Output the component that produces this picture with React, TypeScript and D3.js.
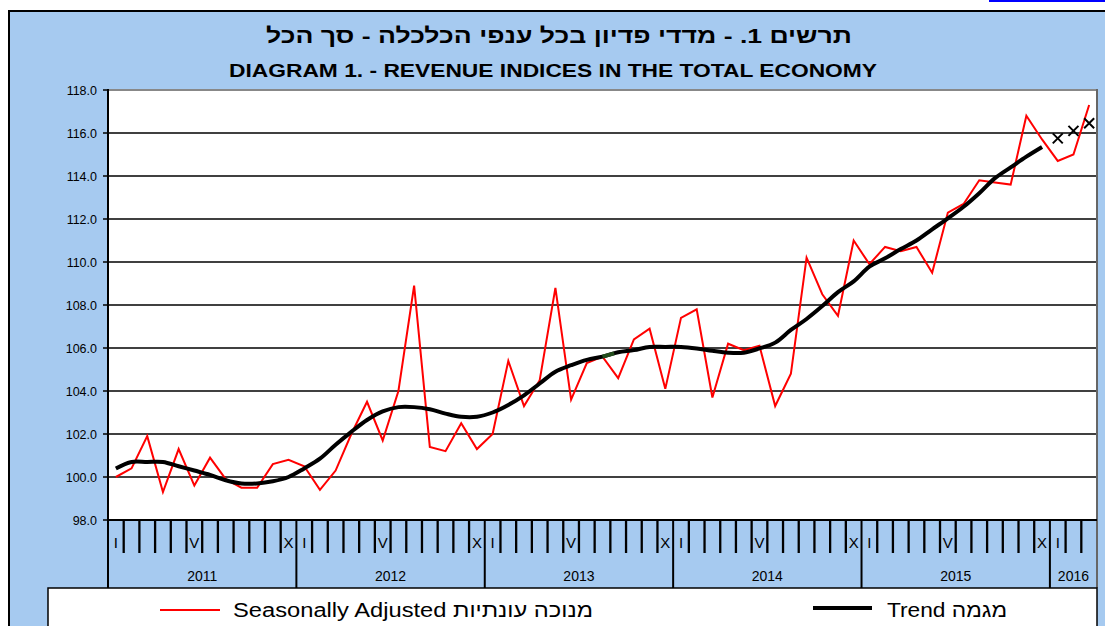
import * as d3 from "d3";

const years = [2011, 2012, 2013, 2014, 2015, 2016];
const monthsInYear = [12, 12, 12, 12, 12, 3];
const romanLabels = [
  { slot: 0, text: "I" },
  { slot: 5, text: "V" },
  { slot: 11, text: "X" }
];

// seasonally adjusted index, Jan 2011 .. Mar 2016
const seasonal = [
  100.0, 100.4, 101.9, 99.3, 101.3, 99.6, 100.9, 99.9, 99.5, 99.5, 100.6, 100.8,
  100.5, 99.4, 100.3, 102.0, 103.5, 101.7, 104.0, 108.9, 101.4, 101.2, 102.5, 101.3,
  102.0, 105.4, 103.3, 104.5, 108.8, 103.6, 105.3, 105.6, 104.6, 106.4, 106.9, 104.1,
  107.4, 107.8, 103.7, 106.2, 105.9, 106.1, 103.3, 104.8, 110.2, 108.5, 107.5, 111.0,
  109.9, 110.7, 110.5, 110.7, 109.5, 112.3, 112.7, 113.8, 113.7, 113.6, 116.8, 115.7,
  114.7, 115.0, 117.3
];

// trend, Jan 2011 .. Dec 2015
const trend = [
  100.4, 100.7, 100.7, 100.7, 100.5, 100.3, 100.1, 99.85, 99.7, 99.7, 99.8, 100.0,
  100.4, 100.85, 101.5, 102.1, 102.65, 103.05, 103.25, 103.25, 103.15, 102.95, 102.8, 102.8,
  103.0, 103.35, 103.8, 104.35, 104.9, 105.2, 105.45, 105.6, 105.8, 105.9, 106.05, 106.05,
  106.05, 105.98, 105.87, 105.78, 105.78, 105.98, 106.25, 106.84, 107.35, 107.95, 108.6, 109.1,
  109.78, 110.17, 110.6, 111.0, 111.52, 112.03, 112.57, 113.2, 113.9, 114.4, 114.9, 115.35
];

// provisional trend, Jan .. Mar 2016
const trendEstimate = [115.75, 116.1, 116.45];

const blue = "#a6caf0";
const font = "Arial, 'Liberation Sans', 'DejaVu Sans', sans-serif";

export default function App() {
  const width = 1105;
  const height = 626;
  const plot = { left: 108, right: 1097, top: 90, bottom: 520 };
  const monthTickBottom = 553;
  const bandBottom = 588;

  const months = years.flatMap((yr, i) => d3.range(monthsInYear[i]).map((m) => `${yr}-${m + 1}`));
  const x = d3.scaleBand<string>().domain(months).range([plot.left, plot.right]);
  const cx = (i: number) => (x(months[i]) ?? 0) + x.bandwidth() / 2;
  const y = d3.scaleLinear([98, 118], [plot.bottom, plot.top]);
  const yTicks = y.ticks(10);

  const redLine = d3
    .line<number>()
    .x((_, i) => cx(i))
    .y((v) => y(v));
  const trendLine = d3
    .line<number>()
    .x((_, i) => cx(i))
    .y((v) => y(v))
    .curve(d3.curveCatmullRom.alpha(0.5));

  let yearStart = 0;
  const yearBands = years.map((yr, i) => {
    const start = yearStart;
    yearStart += monthsInYear[i];
    return { year: yr, start, count: monthsInYear[i] };
  });

  return (
    <svg
      width={width}
      height={height}
      viewBox={`0 0 ${width} ${height}`}
      style={{ position: "absolute", left: 0, top: 0, fontFamily: font }}
    >
      <rect x="0" y="0" width={width} height={height} fill="#fff" />
      <rect x="989" y="0" width="116" height="2" fill="#0000ff" />
      <rect x="9" y="11" width={width} height={height} fill={blue} stroke="#000" strokeWidth="2" />

      <text
        x="559"
        y="43"
        textAnchor="middle"
        direction="rtl"
        fontSize="21"
        fontWeight="bold"
        textLength="586"
        lengthAdjust="spacingAndGlyphs"
      >
        תרשים 1. - מדדי פדיון בכל ענפי הכלכלה - סך הכל
      </text>
      <text
        x="553"
        y="77"
        textAnchor="middle"
        fontSize="18"
        fontWeight="bold"
        textLength="648"
        lengthAdjust="spacingAndGlyphs"
      >
        DIAGRAM 1. - REVENUE INDICES IN THE TOTAL ECONOMY
      </text>

      <rect x={plot.left} y={plot.top} width={plot.right - plot.left} height={plot.bottom - plot.top} fill="#fff" />
      {yTicks.map((tick) => (
        <g key={tick}>
          {tick > 98 && tick < 118 && (
            <line x1={plot.left} x2={plot.right} y1={y(tick)} y2={y(tick)} stroke="#000" strokeWidth="1.6" />
          )}
          <line x1={plot.left - 5} x2={plot.left} y1={y(tick)} y2={y(tick)} stroke="#000" strokeWidth="1.5" />
          <text x={plot.left - 11} y={y(tick) + 4.5} textAnchor="end" fontSize="12.5" fill="#000">
            {tick.toFixed(1)}
          </text>
        </g>
      ))}
      <line x1={plot.left} x2={plot.right} y1={plot.top} y2={plot.top} stroke="#888" strokeWidth="2" />
      <line x1={plot.right} x2={plot.right} y1={plot.top - 1} y2={bandBottom} stroke="#666" strokeWidth="2" />

      {months.map((m, i) =>
        i > 0 && i % 12 !== 0 ? (
          <line
            key={m}
            x1={x(m)}
            x2={x(m)}
            y1={plot.bottom}
            y2={monthTickBottom}
            stroke="#000"
            strokeWidth="2.3"
          />
        ) : null
      )}
      {yearBands.map((band) => (
        <g key={band.year}>
          <line
            x1={x(months[band.start])}
            x2={x(months[band.start])}
            y1={plot.bottom}
            y2={bandBottom}
            stroke="#000"
            strokeWidth="2"
          />
          {romanLabels
            .filter((label) => label.slot < band.count)
            .map((label) => (
              <text
                key={label.text}
                x={cx(band.start + label.slot)}
                y="548"
                textAnchor="middle"
                fontSize="15"
                fill="#000"
              >
                {label.text}
              </text>
            ))}
          <text
            x={(cx(band.start) + cx(band.start + band.count - 1)) / 2}
            y="581"
            textAnchor="middle"
            fontSize="14"
            fill="#000"
          >
            {band.year}
          </text>
        </g>
      ))}
      <line x1={plot.left} x2={plot.left} y1={plot.top - 1} y2={bandBottom} stroke="#000" strokeWidth="2" />
      <line x1={plot.left} x2={plot.right} y1={plot.bottom} y2={plot.bottom} stroke="#000" strokeWidth="2" />

      <path d={redLine(seasonal) ?? undefined} fill="none" stroke="#ff0000" strokeWidth="2" strokeLinejoin="miter" />
      <path d={trendLine(trend) ?? undefined} fill="none" stroke="#000" strokeWidth="4" strokeLinejoin="round" />
      <line
        x1={cx(31)}
        x2={cx(32) - 4}
        y1={y(trend[31])}
        y2={y(trend[31] + (trend[32] - trend[31]) * 0.75)}
        stroke="#234d1c"
        strokeWidth="4"
      />
      {trendEstimate.map((v, i) => {
        const px = cx(trend.length + i);
        const py = y(v);
        return (
          <path
            key={i}
            d={`M${px - 5},${py - 5}L${px + 5},${py + 5}M${px - 5},${py + 5}L${px + 5},${py - 5}`}
            stroke="#000"
            strokeWidth="2"
          />
        );
      })}

      <rect x="48" y={bandBottom} width={plot.right - 48} height="60" fill="#fff" stroke="#000" strokeWidth="1.5" />
      <line x1="160" x2="220" y1="610" y2="610" stroke="#ff0000" strokeWidth="2" />
      <text x="233" y="617" fontSize="20" fill="#000" textLength="360" lengthAdjust="spacingAndGlyphs">
        Seasonally Adjusted מנוכה עונתיות
      </text>
      <line x1="813" x2="872" y1="608" y2="608" stroke="#000" strokeWidth="4" />
      <text x="887" y="617" fontSize="20" fill="#000" textLength="120" lengthAdjust="spacingAndGlyphs">
        Trend מגמה
      </text>
    </svg>
  );
}
